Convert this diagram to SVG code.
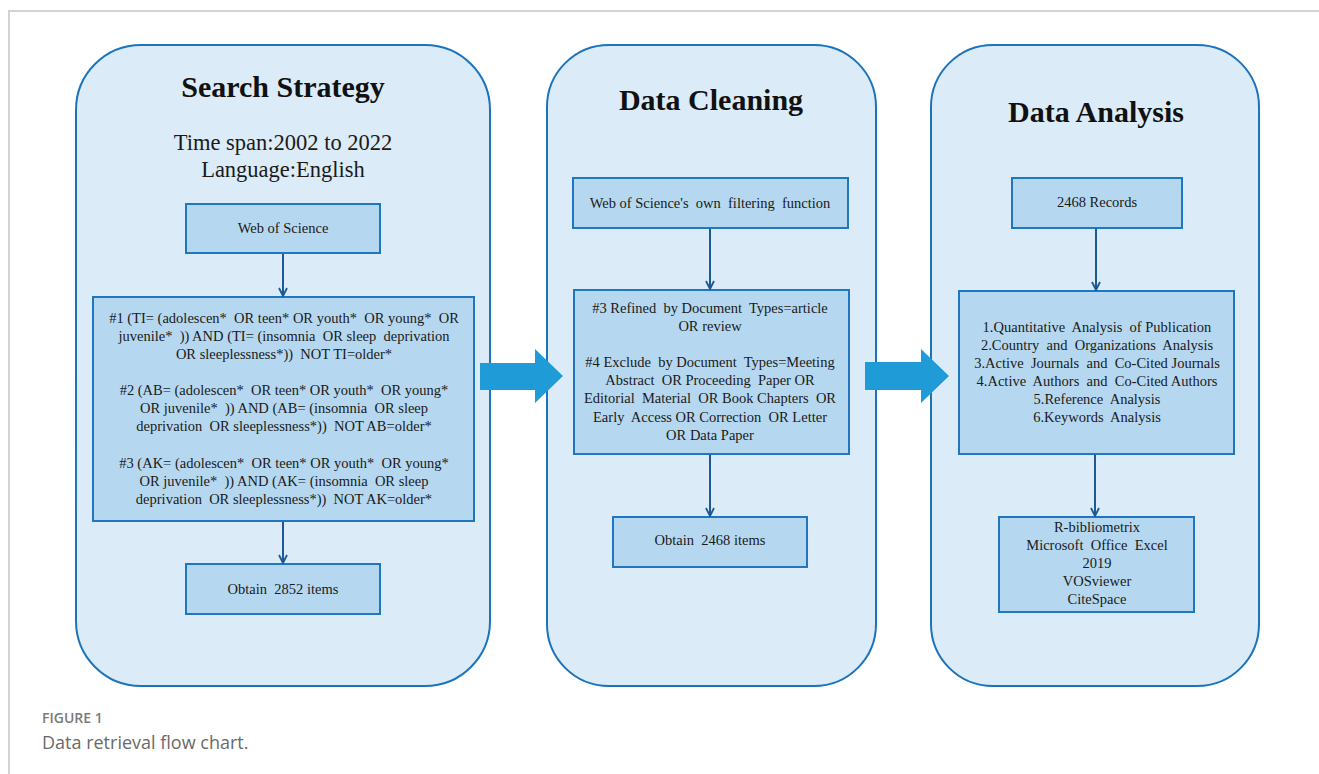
<svg xmlns="http://www.w3.org/2000/svg" width="1319" height="774" viewBox="0 0 1319 774">
  <defs>
    <style>
      .frame { fill: none; stroke: #d2d2d2; stroke-width: 2; }
      .panel { fill: #dbebf8; stroke: #1b74bb; stroke-width: 2; }
      .box { fill: #b5d8f0; stroke: #1f77c0; stroke-width: 2; }
      .link { fill: none; stroke: #1d5a94; stroke-width: 2; marker-end: url(#chev); }
      .bigarrow { fill: #1f9bd7; }
      .title { font-family: "Liberation Serif", "Times New Roman", serif; font-weight: bold; font-size: 30px; fill: #111; text-anchor: middle; }
      .sub { font-family: "Liberation Serif", "Times New Roman", serif; font-size: 22.5px; fill: #1a1a1a; text-anchor: middle; }
      .t { font-family: "Liberation Serif", "Times New Roman", serif; font-size: 14.5px; fill: #1a1a1a; text-anchor: middle; white-space: pre; }
      .capnum { font-family: "Open Sans", "Noto Sans", sans-serif; font-size: 14px; font-weight: 600; fill: #7a7a7a; }
      .cap { font-family: "Open Sans", "Noto Sans", sans-serif; font-size: 18px; fill: #6a6a6a; }
    </style>
    <marker id="chev" viewBox="0 0 10 10" refX="9" refY="5" markerWidth="10" markerHeight="10" markerUnits="userSpaceOnUse" orient="auto">
      <path d="M1,1 L9,5 L1,9" fill="none" stroke="#1d5a94" stroke-width="1.8"/>
    </marker>
  </defs>

  <!-- page frame -->
  <path class="frame" d="M9,774 L9,11 L1319,11"/>

  <!-- stage panels -->
  <g id="panel-search">
    <rect class="panel" x="76" y="45" width="414" height="641" rx="65" ry="65"/>
    <text class="title" x="283" y="97">Search Strategy</text>
    <text class="sub" x="283" y="150">Time span:2002 to 2022</text>
    <text class="sub" x="283" y="177">Language:English</text>
  </g>
  <g id="panel-cleaning">
    <rect class="panel" x="547" y="45" width="329" height="641" rx="62" ry="62"/>
    <text class="title" x="711" y="110">Data Cleaning</text>
  </g>
  <g id="panel-analysis">
    <rect class="panel" x="931" y="45" width="328" height="641" rx="62" ry="62"/>
    <text class="title" x="1096" y="122">Data Analysis</text>
  </g>

  <!-- search strategy steps -->
  <g id="wos">
    <rect class="box" x="186" y="204" width="194" height="49"/>
    <text class="t" x="283" y="233">Web of Science</text>
  </g>
  <g id="queries" xml:space="preserve">
    <rect class="box" x="93" y="297" width="381" height="224"/>
    <text class="t" x="284" y="323">#1 (TI= (adolescen*  OR teen* OR youth*  OR young*  OR</text>
    <text class="t" x="284" y="341">juvenile*  )) AND (TI= (insomnia  OR sleep  deprivation</text>
    <text class="t" x="284" y="359">OR sleeplessness*))  NOT TI=older*</text>
    <text class="t" x="284" y="395">#2 (AB= (adolescen*  OR teen* OR youth*  OR young*</text>
    <text class="t" x="284" y="413">OR juvenile*  )) AND (AB= (insomnia  OR sleep</text>
    <text class="t" x="284" y="431">deprivation  OR sleeplessness*))  NOT AB=older*</text>
    <text class="t" x="284" y="468">#3 (AK= (adolescen*  OR teen* OR youth*  OR young*</text>
    <text class="t" x="284" y="486">OR juvenile*  )) AND (AK= (insomnia  OR sleep</text>
    <text class="t" x="284" y="504">deprivation  OR sleeplessness*))  NOT AK=older*</text>
  </g>
  <g id="obtain-2852" xml:space="preserve">
    <rect class="box" x="186" y="564" width="194" height="50"/>
    <text class="t" x="283" y="594">Obtain  2852 items</text>
  </g>

  <!-- data cleaning steps -->
  <g id="wos-filter" xml:space="preserve">
    <rect class="box" x="573" y="178" width="275" height="50"/>
    <text class="t" x="710" y="208">Web of Science's  own  filtering  function</text>
  </g>
  <g id="refine" xml:space="preserve">
    <rect class="box" x="574" y="290" width="275" height="164"/>
    <text class="t" x="710" y="313">#3 Refined  by Document  Types=article</text>
    <text class="t" x="710" y="331">OR review</text>
    <text class="t" x="710" y="367">#4 Exclude  by Document  Types=Meeting</text>
    <text class="t" x="710" y="385">Abstract  OR Proceeding  Paper OR</text>
    <text class="t" x="710" y="403">Editorial  Material  OR Book Chapters  OR</text>
    <text class="t" x="710" y="422">Early  Access OR Correction  OR Letter</text>
    <text class="t" x="710" y="440">OR Data Paper</text>
  </g>
  <g id="obtain-2468" xml:space="preserve">
    <rect class="box" x="613" y="517" width="194" height="50"/>
    <text class="t" x="710" y="545">Obtain  2468 items</text>
  </g>

  <!-- data analysis steps -->
  <g id="records">
    <rect class="box" x="1012" y="178" width="170" height="50"/>
    <text class="t" x="1097" y="207">2468 Records</text>
  </g>
  <g id="analyses" xml:space="preserve">
    <rect class="box" x="959" y="291" width="275" height="163"/>
    <text class="t" x="1097" y="332">1.Quantitative  Analysis  of Publication</text>
    <text class="t" x="1097" y="350">2.Country  and  Organizations  Analysis</text>
    <text class="t" x="1097" y="368">3.Active  Journals  and  Co-Cited Journals</text>
    <text class="t" x="1097" y="386">4.Active  Authors  and  Co-Cited Authors</text>
    <text class="t" x="1097" y="404">5.Reference  Analysis</text>
    <text class="t" x="1097" y="422">6.Keywords  Analysis</text>
  </g>
  <g id="tools" xml:space="preserve">
    <rect class="box" x="999" y="517" width="195" height="95"/>
    <text class="t" x="1097" y="532">R-bibliometrix</text>
    <text class="t" x="1097" y="550">Microsoft  Office  Excel</text>
    <text class="t" x="1097" y="568">2019</text>
    <text class="t" x="1097" y="586">VOSviewer</text>
    <text class="t" x="1097" y="604">CiteSpace</text>
  </g>

  <!-- connectors -->
  <g id="connectors">
    <line class="link" x1="283" y1="254" x2="283" y2="296"/>
    <line class="link" x1="283" y1="522" x2="283" y2="563"/>
    <line class="link" x1="710" y1="229" x2="710" y2="289"/>
    <line class="link" x1="710" y1="455" x2="710" y2="516"/>
    <line class="link" x1="1096" y1="229" x2="1096" y2="290"/>
    <line class="link" x1="1095" y1="455" x2="1095" y2="516"/>
    <path class="bigarrow" d="M480,363 L535,363 L535,349 L563,376 L535,403 L535,390 L480,390 Z"/>
    <path class="bigarrow" d="M865,362 L921,362 L921,349 L949,376 L921,403 L921,390 L865,390 Z"/>
  </g>

  <!-- caption -->
  <text class="capnum" x="42" y="723">FIGURE 1</text>
  <text class="cap" x="42" y="749">Data retrieval flow chart.</text>
</svg>
